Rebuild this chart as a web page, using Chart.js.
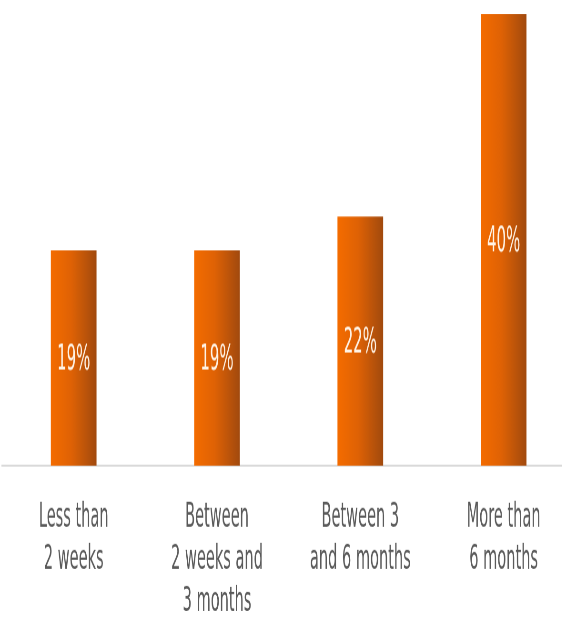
<!DOCTYPE html>
<html>
<head>
<meta charset="utf-8">
<script src="https://cdn.jsdelivr.net/npm/chart.js@4/dist/chart.umd.min.js"></script>
<style>
  html, body { margin: 0; padding: 0; background: #fff; overflow: hidden; }
  #wrap {
    position: absolute; left: 0; top: 0;
    width: 576px;
    transform-origin: 0 0;
  }
</style>
</head>
<body>
<div id="wrap"><canvas id="durationChart"></canvas></div>
<script>
/* DATA */
const categories = [
  ["Less than", "2 weeks"],
  ["Between", "2 weeks and", "3 months"],
  ["Between 3", "and 6 months"],
  ["More than", "6 months"]
];
const shares = [19, 19, 22, 40];
const yMax = 40;

/* tall condensed look: draw short, stretch vertically */
const STRETCH = 2.1;
const H = 628 / STRETCH;
const TOP = 14 / STRETCH;
const PLOT_H = 451 / STRETCH;
const FONT = "'Liberation Sans Narrow', 'DejaVu Sans Condensed', 'Noto Sans', sans-serif";
const BAR_W = 45;

const wrap = document.getElementById("wrap");
wrap.style.height = H + "px";
wrap.style.transform = `scaleY(${STRETCH})`;

/* left-bright, right-dark shading on each bar */
function barFill(ctx) {
  const chart = ctx.chart;
  const xScale = chart.scales.x;
  if (!xScale || !chart.chartArea) return "#E0640A";
  const cx = xScale.getPixelForValue(ctx.dataIndex);
  if (!Number.isFinite(cx)) return "#E0640A";
  const g = chart.ctx.createLinearGradient(cx - BAR_W / 2, 0, cx + BAR_W / 2, 0);
  g.addColorStop(0, "#F46C00");
  g.addColorStop(0.45, "#DF6205");
  g.addColorStop(1, "#A24A0E");
  return g;
}

/* percentages centred inside the bars */
const insideLabels = {
  id: "insideLabels",
  afterDatasetsDraw(chart) {
    const ctx = chart.ctx;
    const meta = chart.getDatasetMeta(0);
    ctx.save();
    ctx.font = "16.6px " + FONT;
    ctx.fillStyle = "#FFF3E6";
    ctx.textAlign = "center";
    ctx.textBaseline = "middle";
    meta.data.forEach((bar, i) => {
      ctx.fillText(shares[i] + "%", bar.x, (bar.y + bar.base) / 2 + 1);
    });
    ctx.restore();
  }
};

new Chart(document.getElementById("durationChart"), {
  type: "bar",
  data: {
    labels: categories,
    datasets: [{
      data: shares,
      backgroundColor: barFill,
      barThickness: BAR_W,
      borderWidth: 0
    }]
  },
  options: {
    responsive: true,
    maintainAspectRatio: false,
    devicePixelRatio: STRETCH,
    animation: false,
    layout: { padding: { top: TOP, left: 2, right: 1, bottom: 0 } },
    plugins: {
      legend: { display: false },
      tooltip: { enabled: false }
    },
    scales: {
      y: { display: false, min: 0, max: yMax },
      x: {
        grid: { display: false },
        border: { display: true, color: "#D9D9D9", width: 1 },
        ticks: {
          color: "#5A5A5A",
          padding: 6.9,
          maxRotation: 0,
          autoSkip: false,
          font: { family: FONT, size: 16.2, lineHeight: 1.23 }
        },
        afterFit(scale) { scale.height = H - TOP - PLOT_H; }
      }
    }
  },
  plugins: [insideLabels]
});
</script>
</body>
</html>
